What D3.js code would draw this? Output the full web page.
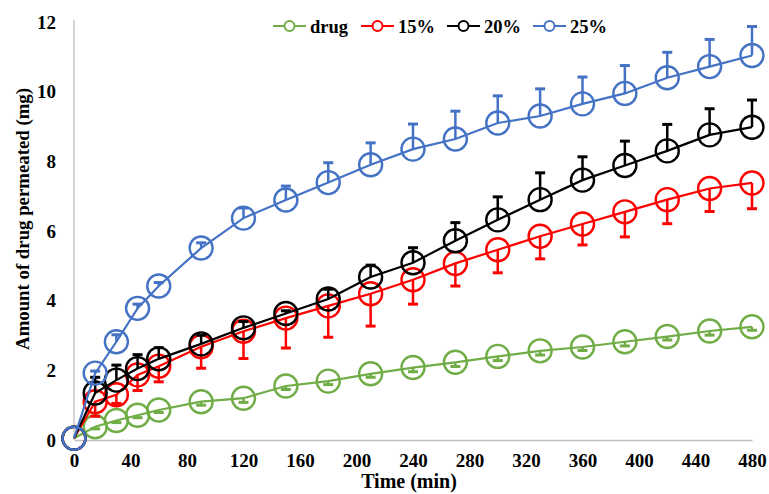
<!DOCTYPE html>
<html>
<head>
<meta charset="utf-8">
<script src="https://cdn.jsdelivr.net/npm/d3@7"></script>
<style>
  body { margin: 0; background: #fff; }
  svg text { font-family: "Liberation Serif", "Times New Roman", serif; font-weight: bold; fill: #000; }
</style>
</head>
<body>
<div id="chart"></div>
<script>
(function () {

  // Data
  const times = [0, 15, 30, 45, 60, 90, 120, 150, 180, 210, 240, 270, 300, 330, 360, 390, 420, 450, 480]
  const drug = [0.05, 0.38, 0.56, 0.71, 0.86, 1.1, 1.2, 1.55, 1.69, 1.9, 2.08, 2.23, 2.4, 2.56, 2.67, 2.82, 2.97, 3.13, 3.25]
  const drugErr = [0, 0.06, 0.06, 0.07, 0.07, 0.1, 0.12, 0.1, 0.1, 0.1, 0.12, 0.12, 0.12, 0.12, 0.1, 0.12, 0.1, 0.12, 0.1]
  const p15 = [0.05, 1.1, 1.3, 1.87, 2.12, 2.68, 3.12, 3.5, 3.85, 4.2, 4.6, 5.07, 5.46, 5.85, 6.2, 6.55, 6.9, 7.22, 7.38]
  const p15Err = [0, 0.42, 0.25, 0.45, 0.45, 0.62, 0.78, 0.86, 0.9, 0.93, 0.7, 0.65, 0.66, 0.65, 0.6, 0.72, 0.69, 0.66, 0.74]
  const p20 = [0.05, 1.35, 1.72, 2.05, 2.33, 2.76, 3.22, 3.63, 4.05, 4.68, 5.09, 5.72, 6.32, 6.9, 7.46, 7.88, 8.3, 8.76, 8.98]
  const p20Err = [0, 0.45, 0.43, 0.4, 0.32, 0.25, 0.18, 0.08, 0.28, 0.34, 0.43, 0.52, 0.66, 0.77, 0.67, 0.7, 0.76, 0.75, 0.78]
  const p25 = [0.05, 1.92, 2.82, 3.78, 4.42, 5.51, 6.37, 6.89, 7.39, 7.9, 8.35, 8.64, 9.1, 9.3, 9.65, 9.95, 10.4, 10.72, 11.04]
  const p25Err = [0, 0.06, 0.2, 0.12, 0.1, 0.15, 0.29, 0.4, 0.57, 0.63, 0.72, 0.8, 0.78, 0.78, 0.77, 0.8, 0.73, 0.78, 0.83]
  const xTicks = [0, 40, 80, 120, 160, 200, 240, 280, 320, 360, 400, 440, 480]
  const yTicks = [0, 2, 4, 6, 8, 10, 12]

  const series = [
    { name: "drug", color: "#70AD47", values: drug, err: drugErr, dir: -1 },
    { name: "15%", color: "#FF0000", values: p15, err: p15Err, dir: -1 },
    { name: "20%", color: "#000000", values: p20, err: p20Err, dir: 1 },
    { name: "25%", color: "#4472C4", values: p25, err: p25Err, dir: 1 }
  ]

  const W = 769, H = 494
  const margin = { top: 22, right: 17, bottom: 54, left: 74 }
  const width = W - margin.left - margin.right
  const height = H - margin.top - margin.bottom

  const svg = d3.select("#chart").append("svg")
      .attr("width", W)
      .attr("height", H)

  const g = svg.append("g")
      .attr("transform", "translate(" + margin.left + "," + margin.top + ")")

  const x = d3.scaleLinear().domain([0, 480]).range([0, width])
  const y = d3.scaleLinear().domain([0, 12]).range([height, 0])

  // Axes
  const xAxis = g.append("g")
      .attr("transform", "translate(0," + height + ")")
      .call(d3.axisBottom(x).tickValues(xTicks).tickSize(0).tickPadding(14))
  const yAxis = g.append("g")
      .call(d3.axisLeft(y).tickValues(yTicks).tickSize(0).tickPadding(18))
  ;[xAxis, yAxis].forEach(a => {
    a.select(".domain").attr("stroke", "#BFBFBF").attr("stroke-width", 1.3)
    a.selectAll("text").style("font-size", "19px").style("font-family", "Liberation Serif").style("font-weight", "bold")
  })
  yAxis.select(".domain").attr("d", "M0," + height + "V-2")

  // Axis titles
  svg.append("text")
    .attr("x", 409)
    .attr("y", 488)
    .attr("text-anchor", "middle")
    .style("font-size", "20px")
    .text("Time (min)")

  svg.append("text")
    .attr("transform", "translate(29," + 219 + ") rotate(-90)")
    .attr("text-anchor", "middle")
    .style("font-size", "18.8px")
    .text("Amount of drug permeated (mg)")

  const line = d3.line()
    .x((d, i) => x(times[i]))
    .y(d => y(d))

  series.forEach(s => {
    const sg = g.append("g")
    // error bars
    s.values.forEach((v, i) => {
      if (s.err[i] <= 0) return
      const cx = x(times[i])
      const ye = y(v + s.dir * s.err[i])
      sg.append("line")
        .attr("x1", cx).attr("x2", cx)
        .attr("y1", y(v)).attr("y2", ye)
        .attr("stroke", s.color).attr("stroke-width", 2.5)
      sg.append("line")
        .attr("x1", cx - 5).attr("x2", cx + 5)
        .attr("y1", ye).attr("y2", ye)
        .attr("stroke", s.color).attr("stroke-width", 3)
    })
    sg.append("path")
      .datum(s.values)
      .attr("d", line)
      .attr("fill", "none")
      .attr("stroke", s.color)
      .attr("stroke-width", 2.2)
    sg.selectAll("circle")
      .data(s.values)
      .join("circle")
      .attr("cx", (d, i) => x(times[i]))
      .attr("cy", d => y(d))
      .attr("r", 11.5)
      .attr("fill", "none")
      .attr("stroke", s.color)
      .attr("stroke-width", 2.4)
  })

  // Legend
  const legendX = [273, 361, 447, 533]
  series.forEach((s, i) => {
    const lg = svg.append("g").attr("transform", "translate(" + legendX[i] + ",26)")
    lg.append("line").attr("x1", 0).attr("x2", 33).attr("y1", 0).attr("y2", 0)
      .attr("stroke", s.color).attr("stroke-width", 2.2)
    lg.append("circle").attr("cx", 16.5).attr("cy", 0).attr("r", 5)
      .attr("fill", "#fff").attr("stroke", s.color).attr("stroke-width", 2)
    lg.append("text").attr("x", 37).attr("y", 6.5)
      .style("font-size", "18.5px")
      .text(s.name)
  })

})();
</script>
</body>
</html>
